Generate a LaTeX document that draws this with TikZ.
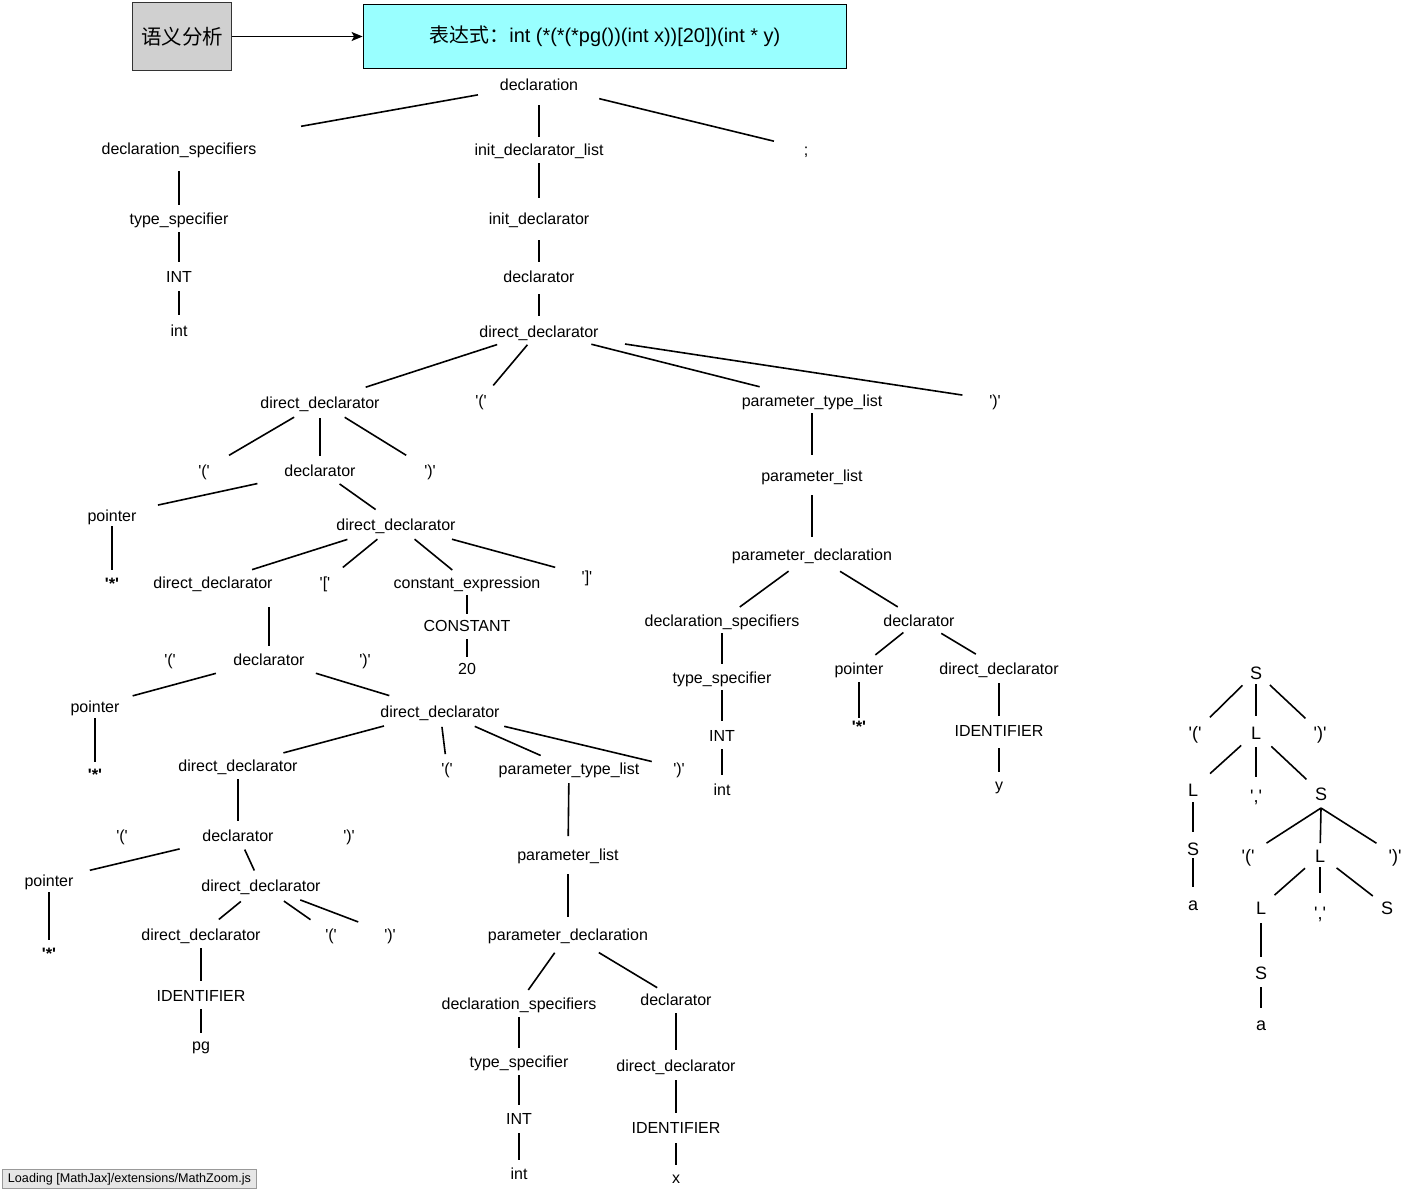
\documentclass[tikz,border=0pt]{standalone}
\usepackage{fontspec}
\setmainfont{Liberation Sans}
\newfontfamily\cjk{Noto Sans CJK SC}
\usetikzlibrary{arrows.meta}
\definecolor{boxgray}{HTML}{D0D0D0}
\definecolor{cyanbox}{HTML}{99FFFF}
\definecolor{loadfill}{HTML}{E6E6E6}
\definecolor{loadline}{HTML}{999999}
\newcommand\q{\textquotesingle}
\newcommand\edg[4]{\draw[edge,shorten <=#3pt,shorten >=#4pt] (#1.center) -- (#2.center);}
\tikzset{
  tn/.style={inner sep=0pt, text height=13pt, text depth=0pt, font=\fontsize{16}{19}\selectfont},
  stn/.style={tn, font=\fontsize{16.5}{19}\selectfont\bfseries},
  sn/.style={inner sep=0pt, text height=14pt, text depth=0pt, font=\fontsize{18}{21}\selectfont},
  edge/.style={line width=1.6pt, black},
}
\begin{document}
\begin{tikzpicture}[x=1pt,y=-1pt]
\fill[white] (0,0) rectangle (1415,1191);
\useasboundingbox (0,0) rectangle (1415,1191);
% top boxes
\node[draw=black!80, fill=boxgray, line width=1.8pt, minimum width=99pt, minimum height=68pt, inner sep=0pt, font=\cjk\fontsize{20.5}{23}\selectfont] (b1) at (182,36.5) {语义分析};
\node[draw=black, fill=cyanbox, line width=1.8pt, minimum width=483pt, minimum height=64pt, inner sep=0pt, font=\fontsize{19.9}{23}\selectfont] (b2) at (605,36.5) {{\cjk 表达式：}int (*(*(*pg())(int x))[20])(int * y)};
\draw[line width=1.4pt, -{Stealth[length=11pt,width=9pt,inset=2.5pt]}] (b1.east) -- (b2.west);
% tree nodes
\node[tn] (decl) at (539,84) {declaration};
\node[tn] (declspec) at (179,148) {declaration\_specifiers};
\node[tn] (initlist) at (539,149) {init\_declarator\_list};
\node[tn] (semi) at (806,149) {;};
\node[tn] (ts1) at (179,218) {type\_specifier};
\node[tn] (INTa) at (179,276) {INT};
\node[tn] (inta) at (179,330) {int};
\node[tn] (initdecl) at (539,218) {init\_declarator};
\node[tn] (dcl1) at (539,276) {declarator};
\node[tn] (dd1) at (539,331) {direct\_declarator};
\node[tn] (dd2) at (320,402) {direct\_declarator};
\node[tn] (lp1) at (481,400) {\q(\q};
\node[tn] (ptl1) at (812,400) {parameter\_type\_list};
\node[tn] (rp1) at (995,400) {\q)\q};
\node[tn] (lp2) at (204,470) {\q(\q};
\node[tn] (dcl2) at (320,470) {declarator};
\node[tn] (rp2) at (430,470) {\q)\q};
\node[tn] (ptr1) at (112,515) {pointer};
\node[stn] (st1) at (112,583) {\q*\q};
\node[tn] (dd3) at (396,524) {direct\_declarator};
\node[tn] (dd4) at (213,582) {direct\_declarator};
\node[tn] (lb) at (325,582) {\q[\q};
\node[tn] (cexp) at (467,582) {constant\_expression};
\node[tn] (rb) at (587,576) {\q]\q};
\node[tn] (const) at (467,625) {CONSTANT};
\node[tn] (n20) at (467,668) {20};
\node[tn] (lp3) at (170,659) {\q(\q};
\node[tn] (dcl3) at (269,659) {declarator};
\node[tn] (rp3) at (365,659) {\q)\q};
\node[tn] (ptr2) at (95,706) {pointer};
\node[stn] (st2) at (95,774) {\q*\q};
\node[tn] (dd5) at (440,711) {direct\_declarator};
\node[tn] (dd6) at (238,765) {direct\_declarator};
\node[tn] (lp4) at (447,768) {\q(\q};
\node[tn] (ptl2) at (569,768) {parameter\_type\_list};
\node[tn] (rp4) at (679,768) {\q)\q};
\node[tn] (lp5) at (122,835) {\q(\q};
\node[tn] (dcl4) at (238,835) {declarator};
\node[tn] (rp5) at (349,835) {\q)\q};
\node[tn] (ptr3) at (49,880) {pointer};
\node[stn] (st3) at (49,953) {\q*\q};
\node[tn] (dd7) at (261,885) {direct\_declarator};
\node[tn] (dd8) at (201,934) {direct\_declarator};
\node[tn] (lp6) at (331,934) {\q(\q};
\node[tn] (rp6) at (390,934) {\q)\q};
\node[tn] (id1) at (201,995) {IDENTIFIER};
\node[tn] (pg) at (201,1044) {pg};
\node[tn] (pl2) at (568,854) {parameter\_list};
\node[tn] (pd2) at (568,934) {parameter\_declaration};
\node[tn] (ds3) at (519,1003) {declaration\_specifiers};
\node[tn] (dcl6) at (676,999) {declarator};
\node[tn] (ts3) at (519,1061) {type\_specifier};
\node[tn] (INTc) at (519,1118) {INT};
\node[tn] (intc) at (519,1173) {int};
\node[tn] (dd10) at (676,1065) {direct\_declarator};
\node[tn] (id3) at (676,1127) {IDENTIFIER};
\node[tn] (xx) at (676,1177) {x};
\node[tn] (pl1) at (812,475) {parameter\_list};
\node[tn] (pd1) at (812,554) {parameter\_declaration};
\node[tn] (ds2) at (722,620) {declaration\_specifiers};
\node[tn] (dcl5) at (919,620) {declarator};
\node[tn] (ts2) at (722,677) {type\_specifier};
\node[tn] (INTb) at (722,735) {INT};
\node[tn] (intb) at (722,789) {int};
\node[tn] (ptr4) at (859,668) {pointer};
\node[stn] (st4) at (859,726) {\q*\q};
\node[tn] (dd9) at (999,668) {direct\_declarator};
\node[tn] (id2) at (999,730) {IDENTIFIER};
\node[tn] (yy) at (999,784) {y};
% edges
\edg{decl}{declspec}{62}{124}
\edg{decl}{initlist}{21}{12}
\edg{decl}{semi}{62}{33}
\edg{declspec}{ts1}{23}{13}
\edg{ts1}{INTa}{14}{14}
\edg{INTa}{inta}{15}{15}
\edg{initlist}{initdecl}{14}{20}
\edg{initdecl}{dcl1}{22}{14}
\edg{dcl1}{dd1}{18}{15}
\edg{dd1}{dd2}{44}{48}
\edg{dd1}{lp1}{18}{19}
\edg{dd1}{ptl1}{54}{54}
\edg{dd1}{rp1}{87}{33}
\edg{dd2}{lp2}{30}{29}
\edg{dd2}{dcl2}{16}{14}
\edg{dd2}{rp2}{29}{28}
\edg{dcl2}{ptr1}{64}{47}
\edg{dcl2}{dd3}{24}{25}
\edg{ptr1}{st1}{11}{13}
\edg{dd3}{dd4}{51}{41}
\edg{dd3}{lb}{24}{23}
\edg{dd3}{cexp}{24}{19}
\edg{dd3}{rb}{58}{33}
\edg{cexp}{const}{13}{11}
\edg{const}{n20}{14}{11}
\draw[edge,shorten <=25pt,shorten >=13pt] (dcl3.center |- dd4.center) -- (dcl3.center);
\edg{dcl3}{ptr2}{55}{39}
\edg{dcl3}{dd5}{49}{53}
\edg{ptr2}{st2}{12}{12}
\edg{dd5}{dd6}{58}{47}
\edg{dd5}{lp4}{16}{14}
\edg{dd5}{ptl2}{38}{31}
\edg{dd5}{rp4}{66}{28}
\edg{dd6}{dcl4}{14}{14}
\edg{dcl4}{ptr3}{60}{42}
\edg{dcl4}{dd7}{16}{16}
\edg{ptr3}{st3}{12}{13}
\edg{dd7}{dd8}{26}{23}
\edg{dd7}{lp6}{28}{25}
\edg{dd7}{rp6}{42}{34}
\edg{dd8}{id1}{14}{14}
\edg{id1}{pg}{14}{11}
\edg{ptl2}{pl2}{15}{18}
\edg{pl2}{pd2}{20}{17}
\edg{pd2}{ds3}{23}{16}
\edg{pd2}{dcl6}{36}{22}
\edg{ds3}{ts3}{14}{13}
\edg{ts3}{INTc}{14}{13}
\edg{INTc}{intc}{15}{13}
\edg{dcl6}{dd10}{14}{15}
\edg{dd10}{id3}{15}{14}
\edg{id3}{xx}{16}{12}
\edg{ptl1}{pl1}{13}{20}
\edg{pl1}{pd1}{20}{17}
\edg{pd1}{ds2}{29}{22}
\edg{pd1}{dcl5}{33}{25}
\edg{ds2}{ts2}{13}{13}
\edg{ts2}{INTb}{13}{14}
\edg{INTb}{intb}{14}{14}
\edg{dcl5}{ptr4}{20}{21}
\edg{dcl5}{dd9}{26}{27}
\edg{ptr4}{st4}{14}{8}
\edg{dd9}{id2}{15}{14}
\edg{id2}{yy}{18}{12}
% S tree
\node[sn] (S1) at (1256,672) {S};
\node[sn] (lpa) at (1195,732) {\q(\q};
\node[sn] (L1) at (1256,732) {L};
\node[sn] (rpa) at (1320,732) {\q)\q};
\node[sn] (L2) at (1193,789) {L};
\node[sn] (cm1) at (1256,795) {\q,\q};
\node[sn] (S2) at (1321,793) {S};
\node[sn] (S3) at (1193,848) {S};
\node[sn] (a1) at (1193,903) {a};
\node[sn] (lpb) at (1248,855) {\q(\q};
\node[sn] (L3) at (1320,855) {L};
\node[sn] (rpb) at (1395,855) {\q)\q};
\node[sn] (L4) at (1261,907) {L};
\node[sn] (cm2) at (1320,912) {\q,\q};
\node[sn] (S4) at (1387,907) {S};
\node[sn] (S5) at (1261,972) {S};
\node[sn] (a2) at (1261,1023) {a};
\edg{S1}{lpa}{19}{21}
\edg{S1}{L1}{12}{16}
\edg{S1}{rpa}{19}{20}
\edg{L1}{L2}{20}{23}
\edg{L1}{cm1}{15}{18}
\edg{L1}{S2}{21}{20}
\edg{L2}{S3}{13}{16}
\edg{S3}{a1}{10}{16}
\draw[edge,shorten >=22pt] ([yshift=-15pt]S2.center) -- (lpb.center);
\draw[edge,shorten >=12pt] ([yshift=-15pt]S2.center) -- (L3.center);
\draw[edge,shorten >=22pt] ([yshift=-15pt]S2.center) -- (rpb.center);
\edg{L3}{L4}{20}{18}
\edg{L3}{cm2}{12}{19}
\edg{L3}{S4}{21}{18}
\edg{L4}{S5}{16}{15}
\edg{S5}{a2}{15}{15}
% loading bar
\node[draw=loadline, fill=loadfill, line width=1pt, minimum width=254pt, minimum height=19pt, inner sep=0pt, font=\fontsize{12.6}{14}\selectfont] (load) at (129.5,1179) {Loading [MathJax]/extensions/MathZoom.js};
\end{tikzpicture}
\end{document}
